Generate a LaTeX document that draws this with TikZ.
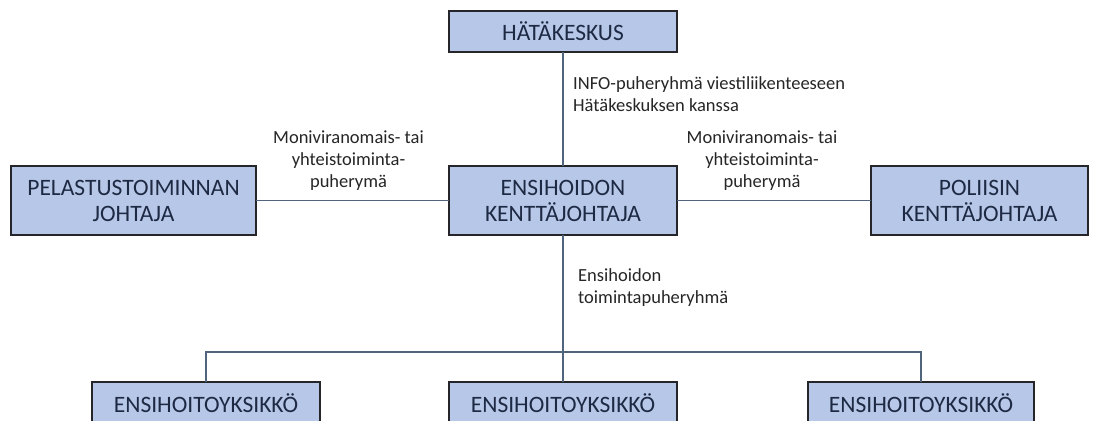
\documentclass[tikz,border=0pt]{standalone}
\usepackage{fontspec}
\setmainfont{Carlito}
\usepackage{tikz}
\usetikzlibrary{positioning}

\definecolor{boxfill}{RGB}{183,199,231}
\definecolor{boxline}{RGB}{38,38,42}
\definecolor{boxtext}{RGB}{30,42,68}
\definecolor{linkcol}{RGB}{80,100,125}
\definecolor{lbltext}{RGB}{38,38,38}

\begin{document}
\begin{tikzpicture}[
  x=1pt, y=1pt,
  unit/.style={draw=boxline, line width=1.6pt, fill=boxfill, text=boxtext, align=center,
    inner sep=0pt, outer sep=0pt, font=\fontsize{23.5}{26}\selectfont},
  wide/.style={unit, minimum width=228pt, minimum height=69pt},
  flat/.style={unit, minimum width=228pt, minimum height=42pt},
  lbl/.style={text=lbltext, inner sep=0pt, font=\fontsize{18.5}{22}\selectfont},
  link/.style={draw=linkcol, line width=1.3pt}
]
\clip (0,0) rectangle (1099,-420);
\fill[white] (0,0) rectangle (1099,-420);

% middle row
\node[wide] (ens) at (563,-200.5) {ENSIHOIDON\\KENTTÄJOHTAJA};
\node[wide, minimum width=245pt, left=193pt of ens] (pel) {PELASTUSTOIMINNAN\\JOHTAJA};
\node[wide, minimum width=217pt, right=194pt of ens] (pol) {POLIISIN\\KENTTÄJOHTAJA};
\node[flat, minimum height=41pt, above=114pt of ens] (hk) {HÄTÄKESKUS};

% units
\node[flat, below=147pt of ens] (unit-mid) {ENSIHOITOYKSIKKÖ};
\node[flat, left=129pt of unit-mid] (unit-left) {ENSIHOITOYKSIKKÖ};
\node[flat, minimum width=226pt, right=131pt of unit-mid] (unit-right) {ENSIHOITOYKSIKKÖ};
\coordinate (bus) at (563,-352);

\draw[link] (hk) -- (ens);
\draw[link] (pel) -- node[lbl, align=center, xshift=-4pt, yshift=40pt] (lbl-left)
  {Moniviranomais- tai\\yhteistoiminta-\\puherymä} (ens);
\draw[link] (ens) -- node[lbl, align=center, xshift=-12pt, yshift=40pt] (lbl-right)
  {Moniviranomais- tai\\yhteistoiminta-\\puherymä} (pol);
\draw[link] (ens) -- (unit-mid);
\draw[link] (unit-left.north) |- (bus) -| (unit-right.north);

\node[lbl, align=left, anchor=west] (lbl-info) at (573,-94)
  {INFO-puheryhmä viestiliikenteeseen\\Hätäkeskuksen kanssa};
\node[lbl, align=left, anchor=west] (lbl-ens) at (578,-287.5)
  {Ensihoidon\\toimintapuheryhmä};
\end{tikzpicture}
\end{document}
